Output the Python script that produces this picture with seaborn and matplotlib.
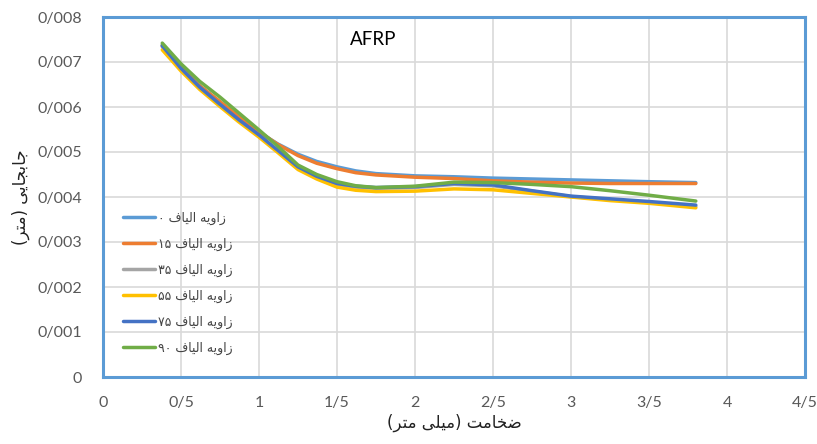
import numpy as np
import pandas as pd
import matplotlib
matplotlib.use("Agg")
import matplotlib.pyplot as plt
import seaborn as sns

# ---------------- data ----------------
thickness = [0.38, 0.5, 0.62, 0.75, 0.87, 1.0, 1.12, 1.25, 1.37, 1.5,
             1.62, 1.75, 2.0, 2.25, 2.5, 2.75, 3.0, 3.25, 3.5, 3.8]
angle_0 = [0.00738, 0.00688, 0.00647, 0.00610, 0.00577, 0.00544, 0.00518, 0.00495, 0.00479, 0.00467,
           0.00458, 0.00452, 0.00447, 0.00445, 0.00442, 0.00440, 0.00438, 0.00436, 0.00434, 0.00432]
angle_15 = [0.00736, 0.00687, 0.00647, 0.00612, 0.00579, 0.00545, 0.00517, 0.00492, 0.00475, 0.00463,
            0.00454, 0.00449, 0.00444, 0.00441, 0.00436, 0.00433, 0.00431, 0.00430, 0.00430, 0.00430]
angle_35 = [0.00734, 0.00684, 0.00642, 0.00604, 0.00570, 0.00536, 0.00502, 0.00465, 0.00444, 0.00428,
            0.00422, 0.00419, 0.00421, 0.00428, 0.00425, 0.00413, 0.00401, 0.00394, 0.00388, 0.00379]
angle_55 = [0.00727, 0.00680, 0.00639, 0.00601, 0.00567, 0.00533, 0.00499, 0.00461, 0.00440, 0.00422,
            0.00415, 0.00412, 0.00413, 0.00418, 0.00416, 0.00408, 0.00400, 0.00392, 0.00386, 0.00376]
angle_75 = [0.00736, 0.00686, 0.00644, 0.00606, 0.00572, 0.00538, 0.00504, 0.00467, 0.00446, 0.00430,
            0.00424, 0.00421, 0.00423, 0.00430, 0.00427, 0.00414, 0.00402, 0.00396, 0.00390, 0.00382]
angle_90 = [0.00742, 0.00696, 0.00657, 0.00622, 0.00587, 0.00549, 0.00513, 0.00471, 0.00450, 0.00434,
            0.00425, 0.00421, 0.00424, 0.00433, 0.00432, 0.00428, 0.00423, 0.00414, 0.00404, 0.00391]

series_labels = ["زاویه الیاف ۰", "زاویه الیاف ۱۵", "زاویه الیاف ۳۵",
                 "زاویه الیاف ۵۵", "زاویه الیاف ۷۵", "زاویه الیاف ۹۰"]
series_colors = ["#5B9BD5", "#ED7D31", "#A5A5A5", "#FFC000", "#4472C4", "#70AD47"]

x_ticks = [0, 0.5, 1, 1.5, 2, 2.5, 3, 3.5, 4, 4.5]
x_tick_labels = ["0", "0/5", "1", "1/5", "2", "2/5", "3", "3/5", "4", "4/5"]
y_ticks = [0, 0.001, 0.002, 0.003, 0.004, 0.005, 0.006, 0.007, 0.008]
y_tick_labels = ["0", "0/001", "0/002", "0/003", "0/004", "0/005", "0/006", "0/007", "0/008"]

title_text = "AFRP"
x_label = "ضخامت (میلی متر)"
y_label = "جابجایی (متر)"

# ------------- minimal Persian shaping (visual order) -------------
FORMS = {
    'ا': ('\uFE8D', '\uFE8E', None, None),
    'ب': ('\uFE8F', '\uFE90', '\uFE91', '\uFE92'),
    'ت': ('\uFE95', '\uFE96', '\uFE97', '\uFE98'),
    'ج': ('\uFE9D', '\uFE9E', '\uFE9F', '\uFEA0'),
    'خ': ('\uFEA5', '\uFEA6', '\uFEA7', '\uFEA8'),
    'ر': ('\uFEAD', '\uFEAE', None, None),
    'ز': ('\uFEAF', '\uFEB0', None, None),
    'ض': ('\uFEBD', '\uFEBE', '\uFEBF', '\uFEC0'),
    'ف': ('\uFED1', '\uFED2', '\uFED3', '\uFED4'),
    'ل': ('\uFEDD', '\uFEDE', '\uFEDF', '\uFEE0'),
    'م': ('\uFEE1', '\uFEE2', '\uFEE3', '\uFEE4'),
    'ه': ('\uFEE9', '\uFEEA', '\uFEEB', '\uFEEC'),
    'و': ('\uFEED', '\uFEEE', None, None),
    'ی': ('\uFBFC', '\uFBFD', '\uFBFE', '\uFBFF'),
}
MIRROR = {'(': ')', ')': '('}


def shape_token(tok):
    if all('\u06F0' <= c <= '\u06F9' or c.isdigit() for c in tok):
        return tok
    out = []
    n = len(tok)
    for i, c in enumerate(tok):
        if c not in FORMS:
            out.append(MIRROR.get(c, c))
            continue
        prev = tok[i - 1] if i > 0 else None
        nxt = tok[i + 1] if i < n - 1 else None
        jp = prev in FORMS and FORMS[prev][2] is not None
        jn = nxt in FORMS and FORMS[c][2] is not None
        iso, fin, ini, med = FORMS[c]
        if jp and jn:
            out.append(med)
        elif jp:
            out.append(fin)
        elif jn:
            out.append(ini)
        else:
            out.append(iso)
    return ''.join(reversed(out))


def visual(s):
    return ' '.join(shape_token(t) for t in reversed(s.split(' ')))


# ------------- build frame -------------
all_series = [angle_0, angle_15, angle_35, angle_55, angle_75, angle_90]
vis_labels = [visual(s) for s in series_labels]
rows = []
for lab, ys in zip(vis_labels, all_series):
    for xv, yv in zip(thickness, ys):
        rows.append({"x": xv, "y": yv, "series": lab})
df = pd.DataFrame(rows)

sns.set_style("white")
plt.rcParams['font.family'] = ['Lato', 'DejaVu Sans']

fig = plt.figure(figsize=(8.17, 4.44), dpi=100)
ax = fig.add_axes([103 / 817, 67 / 444, 702 / 817, 360 / 444])

sns.lineplot(data=df, x="x", y="y", hue="series", hue_order=vis_labels,
             palette=series_colors, linewidth=2.5, sort=False, estimator=None,
             ax=ax)
for ln in ax.get_lines():
    ln.set_solid_joinstyle("round")
    ln.set_solid_capstyle("round")

ax.set_xlim(0, 4.5)
ax.set_ylim(0, 0.008)
ax.set_xticks(x_ticks)
ax.set_xticklabels(x_tick_labels)
ax.set_yticks(y_ticks)
ax.set_yticklabels(y_tick_labels)
ax.tick_params(axis='y', length=0, labelsize=11.5, labelcolor="#595959", pad=15)
ax.tick_params(axis='x', length=0, labelsize=11.5, labelcolor="#595959", pad=14)
ax.grid(True, color="#D9D9D9", linewidth=1.2)
for sp in ax.spines.values():
    sp.set_visible(True)
    sp.set_color("#5B9BD5")
    sp.set_linewidth(2.2)

ax.set_xlabel(visual(x_label), fontsize=12, color="#222222", labelpad=2,
              family=['DejaVu Sans'])
ax.set_ylabel(visual(y_label), fontsize=12, color="#222222", labelpad=5,
              family=['DejaVu Sans'])

ax.text(1.73, 0.00749, title_text, fontsize=13.5, color="black", ha="center", va="center")

handles, labels = ax.get_legend_handles_labels()
leg = ax.legend(handles, labels, loc="upper left", bbox_to_anchor=(0.012, 0.49),
                frameon=False, fontsize=9, handlelength=2.55, labelspacing=1.02,
                handletextpad=0.25)
for t in leg.get_texts():
    t.set_color("#444444")
    t.set_family(['DejaVu Sans'])

fig.savefig("out.png", dpi=100)
